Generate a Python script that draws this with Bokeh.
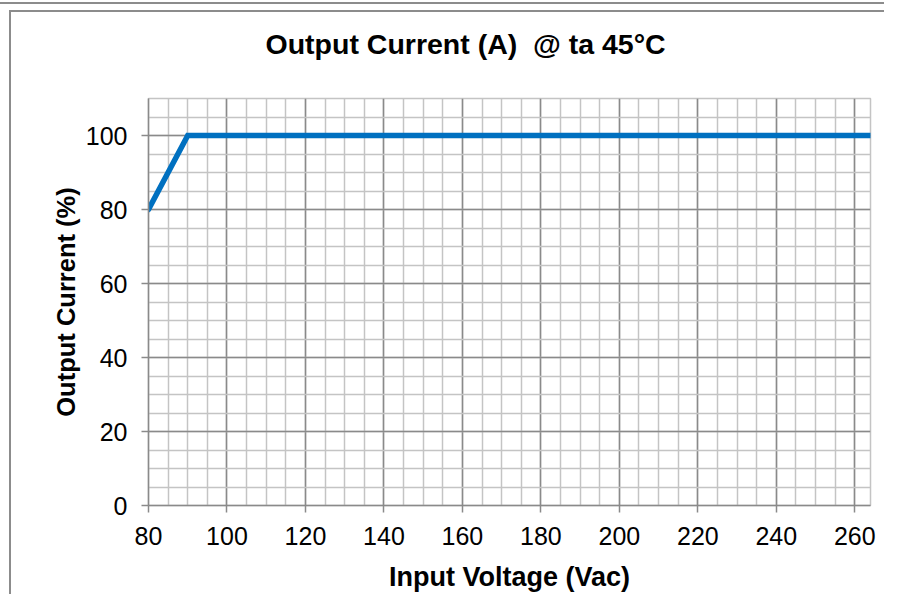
from bokeh.plotting import figure
from bokeh.models import Range1d, SingleIntervalTicker, Title
from bokeh.embed import file_html
from bokeh.resources import INLINE

# Data
voltage = [80, 90, 264]
current = [80, 100, 100]
x_tick_step = 20
y_tick_step = 20
x_limits = (80, 264)
y_limits = (0, 110)

title_text = "Output Current (A)\u00a0 @ ta 45°C"
x_title = "Input Voltage (Vac)"
y_title = "Output Current (%)"

MAJOR = "#8a8a8a"
MINOR = "#c4c4c4"
FONT = "Liberation Sans"

p = figure(width=884, height=594, output_backend="svg", toolbar_location=None,
           x_range=Range1d(*x_limits), y_range=Range1d(*y_limits),
           min_border_left=148, min_border_right=14, min_border_top=98,
           min_border_bottom=86)

# chart frame lines (drawn behind the transparent canvas border area)
G = "linear-gradient(#8c8c8c,#8c8c8c)"
p.styles = {
    "background": (f"{G} 0px 2px / 100% 2px no-repeat, "
                   f"{G} 9px 10px / 100% 2px no-repeat, "
                   f"{G} 9px 10px / 2px 100% no-repeat, #ffffff"),
}
p.border_fill_alpha = 0
p.background_fill_color = "white"
p.outline_line_color = MINOR
p.outline_line_width = 1.5

p.title.text = title_text
p.title.align = "left"
p.title.offset = 117
p.title.standoff = 10
p.title.text_font = FONT
p.title.text_font_size = "28.5px"
p.title.text_font_style = "bold"
p.title.text_color = "black"

# spacer between the title and the plot area
p.add_layout(Title(text=" ", text_font_size="2px", standoff=30), "above")

p.xaxis.ticker = SingleIntervalTicker(interval=x_tick_step, num_minor_ticks=4)
p.yaxis.ticker = SingleIntervalTicker(interval=y_tick_step, num_minor_ticks=4)

for g in (p.xgrid, p.ygrid):
    g.grid_line_color = MAJOR
    g.grid_line_width = 1.5
    g.minor_grid_line_color = MINOR
    g.minor_grid_line_width = 1.5

for ax in (p.xaxis, p.yaxis):
    ax.axis_line_color = MAJOR
    ax.axis_line_width = 1.5
    ax.major_tick_line_color = MAJOR
    ax.major_tick_line_width = 1.5
    ax.major_tick_out = 7
    ax.major_tick_in = 0
    ax.minor_tick_out = 0
    ax.minor_tick_in = 0
    ax.major_label_text_font = FONT
    ax.major_label_text_font_size = "25px"
    ax.major_label_text_color = "black"
    ax.axis_label_text_font = FONT
    ax.axis_label_text_font_style = "bold"
    ax.axis_label_text_color = "black"

p.xaxis.axis_label = x_title
p.yaxis.axis_label = y_title
p.xaxis.axis_label_text_font_size = "27px"
p.yaxis.axis_label_text_font_size = "25.5px"
p.xaxis.major_label_standoff = 14
p.yaxis.major_label_standoff = 14
p.xaxis.axis_label_standoff = 14
p.yaxis.axis_label_standoff = 3

p.line(voltage, current, line_color="#0070C0", line_width=5.5, line_cap="round",
       line_join="miter")

open("out.html", "w").write(file_html(p, INLINE))
